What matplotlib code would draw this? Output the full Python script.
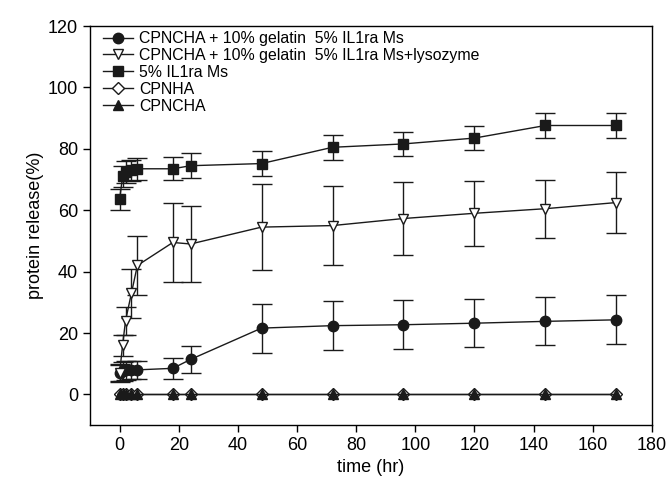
import matplotlib
matplotlib.use("Agg")
import matplotlib.pyplot as plt
import numpy as np

plt.rcParams['font.family'] = ['Liberation Sans', 'DejaVu Sans']

time = [0, 1, 2, 4, 6, 18, 24, 48, 72, 96, 120, 144, 168]

gel_ms = [7, 7.5, 7.8, 8, 8, 8.5, 11.4, 21.6, 22.4, 22.7, 23.2, 23.8, 24.3]
gel_ms_err = [3, 3, 3, 3, 3, 3.5, 4.4, 8, 8, 8, 7.8, 7.8, 8]

gel_lys = [7, 16, 24, 33, 42, 49.5, 49, 54.5, 55, 57.3, 59, 60.5, 62.5]
gel_lys_err = [2.5, 3.5, 4.5, 8, 9.6, 13, 12.5, 14, 13, 12, 10.5, 9.5, 10]

ms = [63.5, 71, 72.5, 73, 73.5, 73.5, 74.5, 75.2, 80.5, 81.6, 83.5, 87.6, 87.6]
ms_err = [3.5, 3.5, 3.5, 3.5, 3.5, 3.8, 4, 4, 4, 4, 4, 4, 4]

cpnha = [0] * 13
cpncha = [0] * 13

labels = ["CPNCHA + 10% gelatin  5% IL1ra Ms",
          "CPNCHA + 10% gelatin  5% IL1ra Ms+lysozyme",
          "5% IL1ra Ms",
          "CPNHA",
          "CPNCHA"]

fig = plt.figure(figsize=(6.72, 4.82), dpi=100)
ax = fig.add_axes([0.134, 0.118, 0.836, 0.828])

c = '#1a1a1a'
kw = dict(color=c, ecolor=c, elinewidth=1, capsize=7, capthick=1, lw=1, markersize=7.5)
h1 = ax.errorbar(time, gel_ms, yerr=gel_ms_err, marker='o', mfc=c, mec=c, **kw)
h2 = ax.errorbar(time, gel_lys, yerr=gel_lys_err, marker='v', mfc='white', mec=c, **kw)
h3 = ax.errorbar(time, ms, yerr=ms_err, marker='s', mfc=c, mec=c, **kw)
h4, = ax.plot(time, cpnha, marker='D', mfc='white', mec=c, color=c, lw=1, markersize=6.5)
h5, = ax.plot(time, cpncha, marker='^', mfc=c, mec=c, color=c, lw=1, markersize=7.5)

ax.set_xlim(-10, 180)
ax.set_ylim(-10, 120)
ax.set_xticks(np.arange(0, 181, 20))
ax.set_yticks(np.arange(0, 121, 20))
ax.tick_params(direction='out', labelsize=13, length=5, width=1, top=False, right=False)
for s in ax.spines.values():
    s.set_linewidth(1)
ax.set_xlabel("time (hr)", fontsize=13, labelpad=4)
ax.set_ylabel("protein release(%)", fontsize=13, labelpad=3)

leg_handles = [h1[0], h2[0], h3[0], h4, h5]
ax.legend(leg_handles, labels, loc='upper left', frameon=False, fontsize=11.4,
          handlelength=1.9, handletextpad=0.4, labelspacing=0.12,
          borderaxespad=0.3, bbox_to_anchor=(0.003, 1.015))

fig.savefig("out.png", dpi=100)
